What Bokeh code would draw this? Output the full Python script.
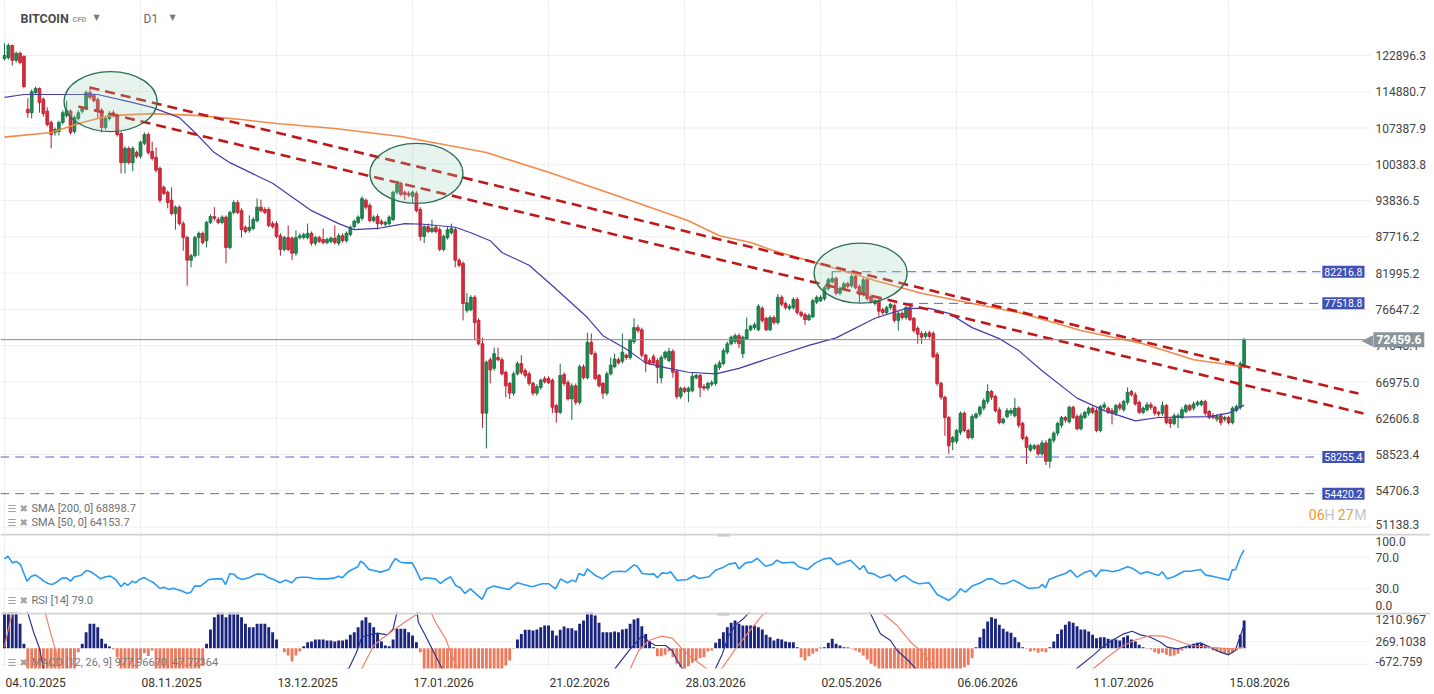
import math
from bokeh.plotting import figure
from bokeh.layouts import column
from bokeh.models import Range1d, FixedTicker, Label, Span, ColumnDataSource
from bokeh.embed import file_html
from bokeh.resources import INLINE

FONT = "Roboto"
ICON_FONT = "DejaVu Sans"

# ---------------- data ----------------
date_labels = ["04.10.2025", "08.11.2025", "13.12.2025", "17.01.2026", "21.02.2026",
               "28.03.2026", "02.05.2026", "06.06.2026", "11.07.2026", "15.08.2026"]
tick_days = [0, 35, 70, 105, 140, 175, 210, 245, 280, 315]

# daily candles, prices in thousands (day 0 = 04.10.2025)
open_k = [
    122.2, 122.4, 125.2, 121.8, 123.4, 122.7, 111.2, 110.5, 114.7, 115.6,
    113.3, 110.8, 108.5, 106.5, 106.7, 108.5, 109.9, 110.8, 106.7, 109.3,
    110.8, 111.4, 114.7, 114.1, 113.2, 111.0, 107.5, 109.3, 110.5, 109.9,
    106.3, 100.7, 103.4, 100.7, 102.6, 101.9, 104.4, 106.1, 102.8, 101.7,
    99.6, 96.2, 95.3, 93.9, 91.6, 92.7, 89.9, 87.6, 84.0, 84.7,
    87.6, 88.3, 87.1, 90.1, 91.1, 90.6, 90.1, 91.0, 86.0, 91.8,
    93.5, 92.1, 89.3, 88.8, 89.1, 90.4, 92.7, 92.3, 92.3, 89.9,
    89.9, 87.9, 85.7, 87.6, 87.5, 85.1, 87.6, 87.6, 87.6, 88.3,
    86.7, 87.6, 87.3, 86.8, 87.0, 87.5, 86.7, 87.9, 87.1, 88.1,
    89.4, 90.1, 90.8, 93.9, 93.0, 90.4, 91.1, 90.3, 89.8, 89.9,
    90.6, 95.3, 96.9, 95.3, 95.1, 94.6, 95.1, 92.3, 87.8, 89.4,
    88.6, 89.3, 88.9, 85.7, 87.6, 88.4, 88.9, 84.0, 83.5, 76.5,
    76.6, 78.4, 75.1, 71.9, 63.2, 69.8, 68.7, 70.1, 69.8, 68.2,
    66.8, 65.6, 68.0, 69.3, 68.4, 68.0, 66.8, 65.6, 66.3, 67.4,
    67.4, 67.2, 64.1, 63.3, 67.9, 66.9, 64.9, 66.5, 64.5, 68.9,
    67.5, 72.1, 70.6, 67.8, 66.8, 65.6, 68.0, 68.9, 69.8, 69.6,
    70.4, 70.1, 72.2, 74.1, 73.8, 70.4, 69.7, 70.2, 69.7, 67.5,
    70.1, 69.7, 70.9, 68.3, 65.2, 66.2, 65.8, 65.9, 67.5, 67.8,
    66.4, 66.2, 66.7, 66.8, 68.8, 69.3, 70.8, 71.9, 72.2, 73.0,
    70.6, 72.6, 73.8, 74.1, 73.8, 76.8, 75.4, 73.8, 75.5, 74.8,
    78.4, 77.5, 76.8, 76.9, 78.1, 76.2, 75.9, 75.2, 75.6, 77.7,
    77.9, 78.2, 79.7, 80.7, 81.2, 79.0, 79.6, 80.4, 80.1, 81.5,
    80.0, 78.8, 81.0, 78.5, 77.5, 77.9, 76.6, 76.2, 76.9, 77.2,
    75.1, 76.1, 75.5, 76.9, 75.4, 74.0, 73.3, 72.9, 73.4, 73.3,
    70.5, 66.8, 65.1, 62.7, 59.9, 60.0, 61.0, 63.2, 61.2, 60.4,
    62.7, 63.1, 63.8, 64.6, 65.8, 65.2, 63.6, 62.1, 62.8, 63.2,
    62.9, 63.8, 62.0, 60.4, 59.0, 59.2, 59.5, 58.6, 59.8, 57.8,
    60.1, 60.9, 61.8, 62.7, 62.2, 63.9, 62.8, 61.4, 62.7, 63.2,
    63.8, 63.5, 61.2, 63.9, 63.8, 63.5, 63.2, 64.2, 63.6, 64.5,
    65.8, 65.4, 64.5, 63.3, 63.6, 64.2, 63.9, 63.3, 63.2, 64.1,
    62.5, 62.0, 62.7, 62.7, 63.4, 64.1, 63.8, 64.2, 64.2, 64.6,
    63.4, 62.9, 62.5, 62.9, 62.5, 62.7, 62.1, 63.5, 63.9, 69.1]
close_k = [
    122.9, 125.2, 121.8, 123.4, 121.3, 116.0, 110.5, 114.9, 115.6, 112.6,
    110.3, 108.1, 106.1, 107.1, 108.5, 110.5, 111.0, 106.5, 109.5, 110.5,
    111.4, 114.7, 113.7, 113.0, 111.0, 107.5, 109.3, 110.3, 109.9, 106.1,
    100.7, 103.4, 100.7, 103.4, 101.9, 104.6, 106.1, 102.6, 101.5, 99.3,
    93.9, 95.1, 93.5, 91.6, 92.7, 89.9, 87.6, 84.0, 84.7, 87.6,
    88.3, 86.8, 90.1, 91.1, 90.8, 90.1, 91.0, 86.0, 91.8, 93.5,
    91.8, 88.9, 88.6, 89.3, 90.6, 92.7, 92.1, 91.8, 89.6, 89.4,
    87.8, 85.7, 87.6, 85.7, 85.1, 87.6, 87.9, 88.1, 88.3, 86.7,
    87.6, 87.0, 86.8, 87.3, 87.5, 86.8, 87.9, 87.1, 88.3, 89.3,
    90.3, 91.0, 94.2, 92.7, 90.4, 91.0, 89.9, 89.9, 90.1, 91.0,
    95.3, 96.7, 94.9, 94.9, 94.8, 95.3, 92.1, 87.8, 89.4, 88.6,
    89.1, 88.6, 85.7, 87.8, 88.9, 89.1, 84.0, 83.2, 77.5, 77.6,
    78.4, 74.8, 71.9, 63.2, 69.5, 68.5, 70.6, 69.8, 68.0, 66.5,
    65.6, 68.0, 69.3, 68.2, 67.8, 66.8, 65.6, 66.4, 67.2, 67.0,
    66.9, 63.9, 63.3, 67.8, 66.8, 64.9, 66.5, 64.5, 68.9, 67.5,
    72.1, 70.6, 67.4, 66.5, 65.6, 68.0, 69.1, 69.9, 69.4, 70.8,
    70.1, 72.4, 74.1, 73.7, 70.4, 69.4, 69.3, 69.4, 68.8, 70.1,
    70.8, 70.9, 68.2, 65.2, 66.2, 65.8, 66.2, 67.7, 67.8, 66.3,
    66.2, 66.8, 66.9, 69.1, 69.4, 71.0, 71.9, 72.8, 73.0, 71.9,
    72.8, 73.8, 74.3, 74.5, 77.1, 75.1, 73.8, 75.5, 74.8, 78.4,
    77.4, 76.9, 77.1, 78.1, 76.2, 75.8, 75.2, 75.8, 77.9, 78.4,
    78.4, 79.8, 81.0, 81.2, 79.0, 79.7, 80.4, 80.0, 81.5, 79.8,
    78.8, 81.0, 78.2, 77.8, 77.9, 76.4, 76.2, 76.9, 77.4, 75.1,
    76.1, 75.5, 76.9, 75.2, 73.7, 73.2, 72.8, 73.3, 72.9, 70.2,
    66.8, 65.1, 62.7, 59.5, 60.4, 61.2, 63.2, 61.2, 60.4, 62.8,
    63.1, 63.9, 64.7, 65.8, 65.1, 63.5, 62.1, 62.5, 63.5, 63.5,
    63.8, 61.8, 60.3, 59.3, 59.5, 59.5, 58.6, 59.8, 57.8, 60.2,
    60.9, 62.0, 62.7, 62.4, 63.9, 62.7, 61.4, 62.9, 63.3, 63.8,
    63.3, 61.2, 64.0, 64.2, 63.3, 63.2, 64.1, 63.8, 64.6, 65.7,
    65.4, 64.3, 63.3, 63.8, 64.2, 63.9, 63.2, 63.1, 64.1, 62.1,
    62.0, 62.9, 62.9, 63.6, 64.1, 63.6, 64.3, 64.5, 64.6, 63.2,
    62.7, 62.7, 62.8, 62.1, 62.7, 62.1, 63.8, 64.0, 69.3, 72.4596]
high_k = [
    125.7, 125.7, 125.4, 123.8, 123.8, 122.9, 113.5, 115.4, 116.0, 115.8,
    113.7, 111.6, 108.9, 107.5, 108.9, 111.0, 113.0, 111.2, 109.9, 111.0,
    111.8, 115.2, 116.0, 114.5, 113.7, 111.4, 109.7, 110.8, 111.0, 110.3,
    106.7, 103.8, 103.8, 103.8, 103.0, 104.9, 106.5, 106.5, 104.7, 103.6,
    100.0, 96.5, 95.6, 96.2, 93.0, 93.0, 90.3, 87.9, 85.0, 87.9,
    88.6, 88.6, 90.4, 91.5, 92.7, 91.0, 91.3, 91.3, 92.1, 93.9,
    93.9, 92.5, 89.6, 91.3, 91.0, 94.2, 94.0, 92.7, 92.7, 90.3,
    90.3, 88.3, 87.9, 89.6, 87.8, 88.8, 88.3, 88.4, 89.9, 88.6,
    87.9, 87.9, 89.1, 87.6, 87.8, 89.6, 88.3, 88.3, 88.6, 89.6,
    90.6, 91.3, 94.6, 94.2, 93.4, 91.3, 91.5, 90.6, 90.4, 91.3,
    95.6, 97.4, 97.2, 95.6, 95.5, 95.6, 95.5, 92.7, 89.8, 89.9,
    90.6, 89.6, 89.3, 88.1, 89.3, 89.9, 89.3, 84.3, 83.8, 79.0,
    78.7, 78.7, 75.4, 72.7, 69.7, 70.1, 71.4, 71.4, 70.1, 68.4,
    67.0, 68.3, 69.6, 70.4, 68.7, 68.3, 67.0, 66.7, 67.4, 67.7,
    67.7, 67.4, 64.3, 69.3, 68.2, 67.2, 66.8, 66.8, 69.2, 69.2,
    73.4, 73.3, 70.9, 68.0, 67.0, 68.3, 70.1, 70.6, 70.1, 73.3,
    70.6, 72.6, 75.4, 74.5, 74.1, 70.6, 70.0, 70.5, 70.0, 70.4,
    71.0, 71.4, 71.2, 68.5, 66.4, 66.4, 66.4, 68.2, 68.0, 68.0,
    66.7, 67.0, 67.2, 69.3, 69.7, 71.3, 72.2, 73.0, 73.3, 73.3,
    73.0, 75.5, 74.5, 74.8, 77.4, 77.1, 75.6, 75.8, 75.8, 78.9,
    78.7, 77.8, 77.4, 78.4, 78.4, 76.5, 76.2, 76.1, 78.2, 78.7,
    78.7, 80.1, 81.3, 82.3, 81.5, 80.0, 80.7, 80.7, 81.8, 81.8,
    80.3, 81.3, 81.3, 78.8, 78.2, 78.2, 76.9, 77.2, 77.6, 77.5,
    76.4, 76.4, 77.2, 77.2, 75.6, 74.3, 73.6, 73.6, 73.7, 73.6,
    70.8, 67.0, 65.3, 62.9, 60.6, 61.4, 63.4, 63.4, 61.4, 63.1,
    63.3, 64.1, 65.0, 66.7, 66.0, 65.4, 63.9, 62.7, 63.8, 63.8,
    65.0, 64.0, 62.2, 60.6, 59.7, 59.7, 59.7, 60.1, 60.1, 60.4,
    61.1, 62.2, 62.9, 62.9, 64.1, 64.1, 63.1, 63.2, 63.5, 64.0,
    64.0, 63.8, 64.2, 64.5, 64.0, 63.8, 64.3, 64.5, 64.8, 66.3,
    66.0, 65.7, 64.7, 64.0, 64.5, 64.5, 64.1, 63.5, 64.6, 64.3,
    62.7, 63.2, 63.2, 63.9, 64.3, 64.3, 64.6, 64.7, 64.8, 64.8,
    63.6, 63.2, 63.1, 63.2, 62.9, 62.9, 64.0, 64.2, 69.6, 72.7]
low_k = [
    121.8, 122.0, 120.6, 121.3, 120.9, 115.6, 109.5, 109.3, 114.3, 110.5,
    109.7, 107.7, 103.4, 105.9, 105.9, 108.1, 109.5, 106.1, 106.3, 108.9,
    110.3, 111.0, 113.2, 112.6, 109.3, 106.5, 107.1, 108.9, 109.5, 105.7,
    98.7, 98.7, 100.4, 99.1, 101.5, 101.5, 104.0, 102.2, 101.1, 98.9,
    93.5, 94.8, 92.5, 91.3, 88.9, 89.6, 85.5, 80.1, 82.9, 84.4,
    84.7, 86.5, 86.0, 89.8, 90.4, 89.8, 89.8, 83.5, 85.7, 91.5,
    91.5, 87.6, 88.3, 88.4, 88.8, 90.1, 91.8, 91.5, 89.3, 89.1,
    87.5, 84.7, 85.4, 85.4, 84.0, 84.7, 87.3, 87.3, 87.3, 86.3,
    86.3, 86.7, 86.5, 86.5, 86.7, 86.5, 86.3, 86.8, 86.8, 87.8,
    89.1, 89.8, 90.4, 92.3, 90.1, 90.1, 88.9, 89.6, 89.4, 89.6,
    90.3, 94.9, 94.6, 93.9, 94.4, 93.5, 91.8, 87.1, 86.7, 88.3,
    88.3, 88.3, 85.4, 85.4, 87.3, 88.1, 82.9, 82.9, 75.1, 76.2,
    76.4, 72.4, 71.7, 61.5, 59.2, 66.8, 68.4, 69.6, 67.8, 65.1,
    64.9, 65.3, 67.8, 67.9, 67.5, 66.5, 65.3, 65.3, 66.0, 66.8,
    66.7, 63.2, 62.1, 63.1, 66.5, 64.7, 62.4, 64.2, 64.2, 67.3,
    67.3, 70.4, 67.2, 66.3, 64.9, 65.3, 67.8, 68.7, 69.2, 69.3,
    69.8, 69.8, 71.9, 73.4, 70.1, 68.2, 69.1, 69.2, 66.8, 66.8,
    69.8, 69.5, 67.5, 64.9, 64.9, 65.6, 64.5, 65.7, 67.3, 65.1,
    65.9, 65.9, 66.4, 66.5, 68.5, 69.1, 70.5, 71.7, 71.9, 71.3,
    70.0, 72.4, 73.6, 73.8, 73.6, 74.8, 73.6, 73.6, 74.5, 74.5,
    77.1, 76.6, 76.5, 76.6, 75.9, 75.5, 74.5, 75.0, 75.4, 77.4,
    77.7, 77.9, 79.4, 80.4, 78.7, 78.7, 79.3, 79.7, 79.8, 79.6,
    77.6, 78.5, 77.9, 77.5, 77.2, 75.5, 75.9, 75.9, 76.6, 74.8,
    73.7, 75.2, 75.2, 75.0, 73.4, 71.9, 71.9, 72.6, 72.6, 70.0,
    66.5, 64.8, 60.6, 58.6, 59.0, 59.7, 60.7, 61.0, 60.2, 60.2,
    62.5, 62.8, 63.5, 64.3, 64.8, 63.3, 61.9, 61.9, 62.6, 62.9,
    62.7, 61.5, 60.1, 57.5, 58.8, 59.0, 58.4, 58.4, 57.4, 57.1,
    59.8, 60.6, 61.5, 62.1, 62.0, 62.5, 61.2, 61.2, 62.5, 62.9,
    63.1, 61.0, 61.0, 63.6, 63.1, 61.9, 62.9, 63.5, 63.4, 64.2,
    65.2, 64.1, 63.1, 63.1, 63.4, 63.6, 62.9, 62.8, 62.9, 61.9,
    61.5, 61.8, 61.5, 62.5, 63.2, 63.4, 63.5, 64.0, 64.0, 62.9,
    62.5, 62.5, 62.2, 61.8, 62.2, 61.9, 61.9, 63.3, 63.6, 68.7]

# moving averages (line vertices), prices in thousands
sma200_day = [0, 12, 20, 27, 38, 50, 61, 70, 85, 102, 124, 140, 158, 176, 184, 192, 198, 211,
              224, 236, 249, 261, 277, 293, 306, 319]
sma200_k = [105.6, 106.5, 108.5, 109.9, 110.3, 109.9, 109.1, 108.3, 107.3, 105.7, 102.6, 98.9,
            94.6, 90.4, 87.9, 86.8, 85.5, 83.2, 80.9, 79.0, 77.5, 76.2, 73.7, 71.9, 69.8, 68.8987]
sma50_day = [0, 5, 24, 32, 38, 45, 49, 54, 58, 69, 79, 86, 90, 96, 103, 108, 116, 120, 125, 128,
             135, 141, 150, 154, 160, 165, 170, 176, 183, 189, 198, 207, 214, 224, 232, 238, 243,
             249, 256, 261, 267, 276, 283, 291, 297, 310, 315, 319]
sma50_k = [113.7, 114.3, 114.3, 112.8, 111.6, 109.5, 106.5, 102.6, 100.7, 96.9, 92.1, 89.9, 88.9,
           89.1, 89.9, 89.8, 89.3, 88.4, 87.1, 85.2, 83.2, 80.1, 75.5, 73.0, 71.2, 69.4, 68.8,
           68.2, 68.0, 68.7, 70.2, 71.7, 72.7, 75.4, 76.8, 76.8, 76.1, 74.1, 72.6, 71.0, 68.4,
           65.0, 63.5, 62.3, 62.7, 62.8, 63.2, 64.1537]

# trend lines (start/end day, start/end price)
trend_day0 = [21.9, 19.0]
trend_price0 = [115800, 111800]
trend_day1 = [348.4, 349.7]
trend_price1 = [65550, 63170]

# highlighted zones (centre day, centre price)
zone_day = [27.3, 106.0, 220.3]
zone_price = [112800, 98700, 82000]

# horizontal levels
level_price = [82216.8, 77518.8, 58255.4, 54420.2]
level_label = ["82216.8", "77518.8", "58255.4", "54420.2"]
level_start_day = [213.0, 231.5, -1.1, -1.1]
last_price = 72459.6
sma200_last = 68898.7
sma50_last = 64153.7

price_ticks = [122896.3, 114880.7, 107387.9, 100383.8, 93836.5, 87716.2, 81995.2, 76647.2,
               71648.1, 66975.0, 62606.8, 58523.4, 54706.3, 51138.3]

# RSI(14) line vertices
rsi_day = [0, 0.9, 2, 3.1, 4.1, 5.2, 5.8, 6.9, 8, 9.1, 10.1, 11.2, 12.3, 13.4, 14.8, 16, 17, 18,
           19.6, 21.1, 22.1, 23.4, 24.7, 26, 27.3, 28.6, 30, 30.9, 31.7, 32.9, 33.7, 34.8, 35.9,
           37.1, 38.4, 40, 41, 42.3, 43.4, 44.4, 45.7, 47, 48, 48.9, 50.4, 51.5, 52.6, 54.3, 56,
           56.9, 58, 59, 60, 61.2, 62.9, 65, 66.7, 68, 69.3, 70.9, 72.3, 74, 75.1, 76.6, 77.9,
           79.6, 81.3, 83, 84.7, 86, 86.9, 88.6, 89.9, 90.9, 91.6, 92.5, 93.8, 95, 96.8, 98.9,
           99.8, 100.6, 101.9, 103.2, 104.9,
           105.8, 107.1, 108.3, 110.9, 112.2, 113.5, 114.8, 116.1, 117.3, 118.5, 119.9, 122.9,
           124.2, 125.9, 129.8, 131.9, 135.8, 138.4, 140.1, 141.8, 143.1, 144.8, 146.1, 147,
           147.8, 149.1, 150, 152.1, 153.8, 156.4, 158.5, 159.8, 162, 162.8, 164.1, 165.8, 167.1,
           168, 169.2, 170.5, 171.4, 173.1, 175.7, 177.4, 178.7, 181.3, 183, 184.7, 186.4, 188.1,
           189, 190.7, 192.4, 193.7, 195.8, 197.5, 198.8, 200.1, 203.1, 204.4, 206.6, 208.7,
           210.9, 212.6,
           214.3, 216, 217.7, 220.1, 221.1, 222.2, 223.7, 225.4, 227.8, 229.3, 230.6, 231.6,
           233.6, 235.3, 237.9, 240, 243, 244.7, 246, 247.3, 249, 251.2, 252.9, 254.2, 256.3,
           257.6, 259.7, 261.5, 263.6, 266.2, 267, 267.9, 268.8, 270.9, 273, 274.3, 276, 277.8,
           279.5, 280.8, 282.1, 283.8, 285.1, 286.8, 289, 290.2, 292.4, 294, 297, 297.9, 299.2,
           300.9, 303.5, 305.2, 307.8, 309.1, 310.8, 312.5, 313.8, 315.1, 315.9, 316.8, 318.1, 319]
rsi_val = [67.9, 71.3, 62.8, 64.5, 60.7, 46.8, 39.7, 46.0, 47.3, 43.9, 39.7, 36.7, 35.5, 38.4,
           43.5, 43.5, 39.7, 45.2, 46.8, 53.2, 51.9, 47.7, 42.6, 45.2, 46.0, 41.8, 32.5, 37.6,
           34.2, 39.7, 37.6, 41.8, 44.3, 41.0, 37.6, 30.4, 32.1, 29.2, 30.8, 29.2, 27.1, 24.1,
           25.8, 33.4, 33.4, 37.6, 41.8, 42.6, 42.6, 35.5, 49.4, 48.5, 43.9, 41.8, 43.9, 48.9,
           48.1, 43.9, 41.8, 37.6, 41.0, 37.6, 43.9, 44.7, 44.7, 43.1, 42.6, 42.6, 43.5, 46.0,
           43.9, 52.3, 55.3, 57.8, 64.9, 62.0, 54.4, 53.2, 51.1, 54.4, 62.8, 68.3, 63.7, 62.8,
           62.8,
           55.0, 41.0, 43.9, 42.6, 36.7, 41.8, 45.2, 34.2, 31.3, 24.1, 30.0, 16.5, 30.0, 33.4,
           29.2, 37.6, 32.5, 36.3, 36.3, 30.0, 42.6, 37.6, 41.0, 38.8, 49.4, 46.8, 55.3, 46.8,
           42.6, 51.5, 52.3, 51.5, 60.3, 58.6, 49.4, 48.5, 48.9, 43.9, 50.2, 49.4, 51.5, 40.5,
           41.8, 46.8, 43.1, 45.2, 53.6, 56.5, 61.2, 62.8, 55.3, 62.8, 64.1, 68.7, 58.6, 60.7,
           66.2, 62.8, 63.7, 57.8, 54.4, 62.8, 67.9, 68.9,
           60.3, 63.7, 66.2, 54.4, 59.5, 50.2, 48.9, 43.9, 47.7, 39.7, 44.7, 46.8, 39.7, 36.3,
           37.6, 22.8, 15.3, 21.6, 30.0, 25.8, 33.4, 37.6, 42.6, 42.6, 36.3, 36.3, 41.0, 36.3,
           30.4, 31.7, 35.5, 31.3, 41.8, 46.0, 49.4, 53.6, 44.7, 50.2, 53.2, 45.2, 53.6, 53.2,
           51.5, 53.6, 57.8, 56.1, 48.9, 51.5, 46.8, 51.5, 42.6, 45.2, 52.3, 52.3, 54.4, 47.3,
           46.0, 43.9, 42.6, 41.0, 53.6, 54.4, 71.3, 79.0]
rsi_last = 79.0
rsi_ticks = [100, 70, 30, 0]

# MACD histogram (one bar per day)
macd_hist = [
    1700, 1700, 1700, 1700, 1020, 182, -900, -1100, -1200, -1300,
    -1300, -1400, -1400, -1300, -1200, -1100, -1000, -950, -900, -168,
    182, 670, 1020, 1020, 880, 391, 182, 70, -50, -377,
    -1000, -1000, -1000, -950, -900, -480, -200, -330, -100, -900,
    -950, -1000, -1100, -1150, -1200, -1200, -1200, -1150, -1100, -1000,
    -950, -700, 182, 782, 1300, 1700, 1700, 1300, 1700, 1700,
    1700, 1300, 1020, 880, 880, 1020, 1020, 1020, 880, 670,
    363, 0, -168, -307, -559, -307, -140, 84, 251, 279,
    363, 363, 363, 321, 321, 279, 321, 321, 363, 559,
    670, 880, 1160, 1300, 1062, 880, 600, 279, 112, 84,
    363, 810, 810, 810, 670, 530, 251, -168, -900, -1000,
    -1100, -1200, -1300, -1300, -1300, -1200, -1100, -1000, -1100, -1200,
    -1300, -1300, -1300, -1300, -1200, -1100, -1000, -950, -900, -726,
    -517, -28, 363, 600, 768, 768, 740, 782, 880, 950,
    950, 740, 530, 768, 908, 838, 838, 740, 1020, 1160,
    1700, 1700, 1370, 1062, 670, 670, 670, 698, 670, 782,
    810, 1020, 1200, 1257, 922, 600, 279, 42, -335, -335,
    -279, -140, -377, -656, -796, -900, -754, -615, -517, -419,
    -377, -140, -98, 224, 391, 670, 880, 1062, 1160, 1020,
    950, 950, 950, 950, 880, 782, 559, 461, 321, 391,
    363, 279, 251, 251, 42, -377, -517, -335, -237, -140,
    20, 42, 224, 391, 182, 112, 42, 28, -20, -98,
    -168, -307, -475, -656, -754, -900, -950, -1000, -1050, -1100,
    -1100, -1100, -1050, -1000, -1000, -1050, -1100, -1100, -1050, -1000,
    -950, -900, -950, -1000, -1050, -1000, -950, -800, -700, -419,
    42, 461, 810, 1118, 1300, 1230, 978, 810, 698, 643,
    461, 251, 42, -20, -140, -98, -196, -140, -168, 42,
    279, 600, 782, 978, 1118, 1062, 922, 782, 782, 698,
    559, 419, 461, 461, 391, 363, 363, 321, 461, 530,
    363, 279, 140, 42, 10, -56, -168, -237, -196, -279,
    -335, -307, -237, -98, 42, 140, 182, 224, 182, 112,
    42, -98, -140, -196, -237, -279, -196, -98, 559, 1160]

macd_day = [0, 4, 6, 7.5, 9, 10, 14, 40, 60, 80, 86, 88.6, 90.5, 92, 94, 96, 98.5, 100, 101, 103,
            105, 106.2, 106.5, 108.3, 110.9, 112.6, 116, 125, 140, 150, 157.2, 160.7, 164.1,
            165.8, 167.5, 170.1, 171.8, 173.1, 174.4, 178, 181, 183, 184.7, 186.4, 188.1, 189.9,
            191.5, 195, 210, 220, 222.8, 225.4, 228, 229.7, 232.3, 234.4, 240, 250, 265, 276,
            280.3, 282, 284.6, 288, 290.2, 292.3, 294.9, 297.5, 299.2, 301.8, 305.2, 307.8, 310.3,
            312.9, 315, 316.7, 319]
macd_line = [2600, 2200, 1467, 670, 0, -850, -2500, -4000, -3000, -2000, -1000, -850, -200, 480,
             560, 630, 560, 800, 1500, 2400, 2200, 1467, 1090, 530, -307, -838, -2000, -4500,
             -4000, -2500, -838, -98, 530, 279, 113, 113, -98, -517, -838, -1500, -1500, -838,
             -250, 530, 978, 1200, 1467, 2300, 3000, 2200, 1467, 601, 321, -98, -475, -838,
             -2200, -3500, -2500, -838, -279, -28, 279, 601, 712, 559, 461, 251, 42, -27, 113,
             224, 42, -167, -279, -98, 978]
signal_day = [0, 1, 2, 3, 6, 9, 10.5, 11.8, 13, 14.2, 20, 50, 80, 92, 95, 97.6, 100, 103.6, 106.6,
              108, 109.5, 110.9, 113.5, 115.2, 116.5, 125, 145, 158, 161.1, 163.2, 165.8, 169.2,
              171.8, 174.4, 177, 179.6, 180.4, 182.5, 184.7, 188.1, 191.5, 194.9, 195.8, 205, 220,
              226, 229.7, 233.2, 235.7, 238.3, 239.2, 250, 265, 280.3, 283.8, 287.2, 290.6, 294.9,
              298.2, 301.8, 305.2, 309.5, 312.9, 316.3, 319]
signal_line = [42, 810, 1467, 2200, 2800, 2200, 1467, 670, 0, -838, -2200, -3500, -2000, -838,
               113, 460, 740, 1160, 1467, 1700, 1600, 1090, 391, -307, -838, -2500, -3500, -1500,
               -838, -98, 321, 503, 420, -27, -419, -726, -838, -1000, -838, -27, 670, 1370,
               1467, 2500, 2200, 1467, 950, 251, -98, -587, -838, -2500, -2500, -838, -377, 42,
               321, 530, 503, 321, 113, 42, 0, -27, 48]
macd_last = "977.96670"
signal_last = "47.72364"
macd_ticks = [1210.967, 269.1038, -672.759]
macd_tick_text = ["1210.967", "269.1038", "-672.759"]

# ---------------- layout constants (page pixels) ----------------
W = 1430                       # canvas / frame width
PX_PER_DAY = 3.886
X0 = -4 / PX_PER_DAY
X1 = X0 + W / PX_PER_DAY
PRICE_H, RSI_H, MACD_H = 533, 79, 56
P_TOP, P_BOT = 136127.0, 50535.0
M_TOP, M_BOT = 1496.0, -851.0
AXIS_PX = 1375                 # left edge of the value labels
GRID_END_PX = 1370
GRID = "#eeeeee"
AXIS_TXT = "#444444"


def day_at(px):
    return X0 + px / PX_PER_DAY


def price_at(py):
    return math.exp(math.log(P_TOP) - py / PRICE_H * math.log(P_TOP / P_BOT))


def rsi_at(py):
    return 100.0 - (py - PRICE_H) / RSI_H * 100.0


def macd_at(py):
    return M_TOP - (py - PRICE_H - RSI_H) / MACD_H * (M_TOP - M_BOT)


def new_fig(height, y_range, log=False, xaxis=False):
    p = figure(frame_width=W, frame_height=height, x_range=Range1d(X0, X1), y_range=y_range,
               y_axis_type="log" if log else "linear", y_axis_location=None,
               x_axis_location="below" if xaxis else None, toolbar_location=None,
               output_backend="svg", min_border=0, title=None)
    p.outline_line_color = None
    p.background_fill_color = "white"
    p.border_fill_color = "white"
    p.xgrid.ticker = FixedTicker(ticks=tick_days)
    p.xgrid.grid_line_color = GRID
    p.ygrid.grid_line_color = None
    return p


def text(p, x, y, s, size="11px", color="#6f6f6f", font=FONT, style_="normal", align="left", **kw):
    p.add_layout(Label(x=x, y=y, text=s, text_font=font, text_font_size=size, text_color=color,
                       text_font_style=style_, text_align=align, text_baseline="middle", **kw))


def hgrid(p, values):
    p.segment(x0=[X0] * len(values), y0=values, x1=[day_at(GRID_END_PX)] * len(values), y1=values,
              line_color=GRID, line_width=1)


def value_labels(p, ys, texts):
    for y, t in zip(ys, texts):
        text(p, day_at(AXIS_PX), y, t, size="12px", color=AXIS_TXT)


def legend_icons(p, y):
    text(p, day_at(7), y, "\u2630", size="10px", color="#a0a0a0", font=ICON_FONT)
    text(p, day_at(19), y, "\u2716", size="10px", color="#a0a0a0", font=ICON_FONT)


# ---------------- price panel ----------------
p1 = new_fig(PRICE_H, Range1d(P_BOT, P_TOP), log=True)
hgrid(p1, price_ticks)

n = len(close_k)
days = list(range(n))
o = [v * 1000 for v in open_k]
c = [v * 1000 for v in close_k]
h = [v * 1000 for v in high_k]
lo = [v * 1000 for v in low_k]
up = [c[i] >= o[i] for i in range(n)]
src = ColumnDataSource(dict(
    day=days, high=h, low=lo,
    top=[max(o[i], c[i]) for i in range(n)],
    bottom=[min(o[i], c[i]) for i in range(n)],
    fill=["#1b8a4e" if u else "#dc2a3c" for u in up],
    edge=["#137040" if u else "#b31f2e" for u in up],
))
p1.segment(x0="day", y0="low", x1="day", y1="high", source=src, line_color="edge", line_width=1)
p1.vbar(x="day", width=0.72, top="top", bottom="bottom", source=src,
        fill_color="fill", line_color="edge", line_width=0.8)

p1.line(sma200_day, [v * 1000 for v in sma200_k], line_color="#f5894a", line_width=1.6)
p1.line(sma50_day, [v * 1000 for v in sma50_k], line_color="#463ba8", line_width=1.2)

# levels
p1.segment(x0=level_start_day, y0=level_price, x1=[day_at(1320)] * len(level_price),
           y1=level_price, line_color="#5566cc", line_width=1, line_dash="9 6")

# trend lines
p1.segment(x0=trend_day0, y0=trend_price0, x1=trend_day1, y1=trend_price1,
           line_color="#c01818", line_width=2.6, line_dash="10 6")

# zones
p1.ellipse(x=zone_day, y=zone_price, width=93, height=60, width_units="screen",
           height_units="screen", fill_color="#9fd3b8", fill_alpha=0.25,
           line_color="#2b6e55", line_width=1.3)

# last price line
p1.segment(x0=[X0], y0=[last_price], x1=[day_at(1364)], y1=[last_price],
           line_color="#7f8a8e", line_width=1)

# value axis labels (kept inside the panel)
value_labels(p1, [max(t, price_at(524)) for t in price_ticks], [f"{t:.1f}" for t in price_ticks])

for lp, lt in zip(level_price, level_label):
    p1.add_layout(Label(x=day_at(1364), y=lp, text=lt, text_align="right", text_baseline="middle",
                        text_font=FONT, text_font_size="10.5px", text_color="white",
                        background_fill_color="#3f51b5", padding=2))

p1.add_layout(Label(x=day_at(1361), y=last_price, text="\u25C0", text_align="left",
                    text_baseline="middle", text_font=ICON_FONT, text_font_size="15px",
                    text_color="#8a9599"))
p1.add_layout(Label(x=day_at(1373), y=last_price, text=f"{last_price:.1f}", text_align="left",
                    text_baseline="middle", text_font=FONT, text_font_size="12px",
                    text_font_style="bold", text_color="white",
                    background_fill_color="#8a9599", padding=3))

# countdown
cy = price_at(514)
text(p1, day_at(1366), cy, "M", size="14px", color="#c4c4c4", align="right")
text(p1, day_at(1353), cy, "27", size="14px", color="#f39a2c", align="right")
text(p1, day_at(1334), cy, "H", size="14px", color="#c4c4c4", align="right")
text(p1, day_at(1324), cy, "06", size="14px", color="#f39a2c", align="right")

# header
hy = price_at(18)
text(p1, day_at(20), hy, "BITCOIN", size="12.5px", color="#4a4a4a", style_="bold")
text(p1, day_at(72), price_at(19), "CFD", size="7.5px", color="#9a9a9a", style_="bold")
text(p1, day_at(93), price_at(17), "\u25BC", size="8px", color="#7a7a7a", font=ICON_FONT)
text(p1, day_at(143), hy, "D1", size="12px", color="#6a6a6a")
text(p1, day_at(169), price_at(17), "\u25BC", size="8px", color="#7a7a7a", font=ICON_FONT)

# legends
legend_icons(p1, price_at(508))
text(p1, day_at(31), price_at(508), f"SMA [200, 0] {sma200_last}")
legend_icons(p1, price_at(522))
text(p1, day_at(31), price_at(522), f"SMA [50, 0] {sma50_last}")

# ---------------- RSI panel ----------------
p2 = new_fig(RSI_H, Range1d(0, 100))
hgrid(p2, [70, 30])
p2.line(rsi_day, rsi_val, line_color="#2b9af3", line_width=1.6)
p2.add_layout(Span(location=rsi_at(PRICE_H + 1), dimension="width", line_color="#d2d2d2",
                   line_width=2))
p2.segment(x0=[day_at(717)], y0=[rsi_at(PRICE_H + 1.5)], x1=[day_at(729)],
           y1=[rsi_at(PRICE_H + 1.5)], line_color="#bdbdbd", line_width=3)
value_labels(p2, [min(max(v, rsi_at(605)), rsi_at(541)) for v in rsi_ticks],
             [f"{v:.1f}" for v in rsi_ticks])
legend_icons(p2, rsi_at(600))
text(p2, day_at(31), rsi_at(600), f"RSI [14] {rsi_last}")

# ---------------- MACD panel ----------------
p3 = new_fig(MACD_H, Range1d(M_BOT, M_TOP), xaxis=True)
hgrid(p3, macd_ticks[1:])
label_days = [d + 8 for d in tick_days]
p3.xaxis.ticker = FixedTicker(ticks=label_days)
p3.xaxis.major_label_overrides = dict(zip(label_days, date_labels))
p3.xaxis.axis_line_color = None
p3.xaxis.major_tick_line_color = None
p3.xaxis.minor_tick_line_color = None
p3.xaxis.major_label_text_font = FONT
p3.xaxis.major_label_text_font_size = "12px"
p3.xaxis.major_label_text_color = "#333333"
p3.xaxis.major_label_standoff = 3

hsrc = ColumnDataSource(dict(day=list(range(len(macd_hist))), top=macd_hist,
                             color=["#1a237e" if v >= 0 else "#ec7a5c" for v in macd_hist]))
p3.vbar(x="day", width=0.74, top="top", bottom=0, source=hsrc, fill_color="color",
        line_color=None)
p3.line(macd_day, macd_line, line_color="#283593", line_width=1.2)
p3.line(signal_day, signal_line, line_color="#f0826a", line_width=1.2)
p3.add_layout(Span(location=macd_at(PRICE_H + RSI_H + 1), dimension="width",
                   line_color="#d2d2d2", line_width=2))
p3.segment(x0=[day_at(717)], y0=[macd_at(PRICE_H + RSI_H + 1.5)], x1=[day_at(729)],
           y1=[macd_at(PRICE_H + RSI_H + 1.5)], line_color="#bdbdbd", line_width=3)
value_labels(p3, [max(v, macd_at(661)) for v in macd_ticks], macd_tick_text)
legend_icons(p3, macd_at(662))
text(p3, day_at(31), macd_at(662), f"MACD [12, 26, 9] {macd_last}, {signal_last}", color="#7a7a7a")

layout = column(p1, p2, p3)
open("out.html", "w").write(file_html(layout, INLINE))
